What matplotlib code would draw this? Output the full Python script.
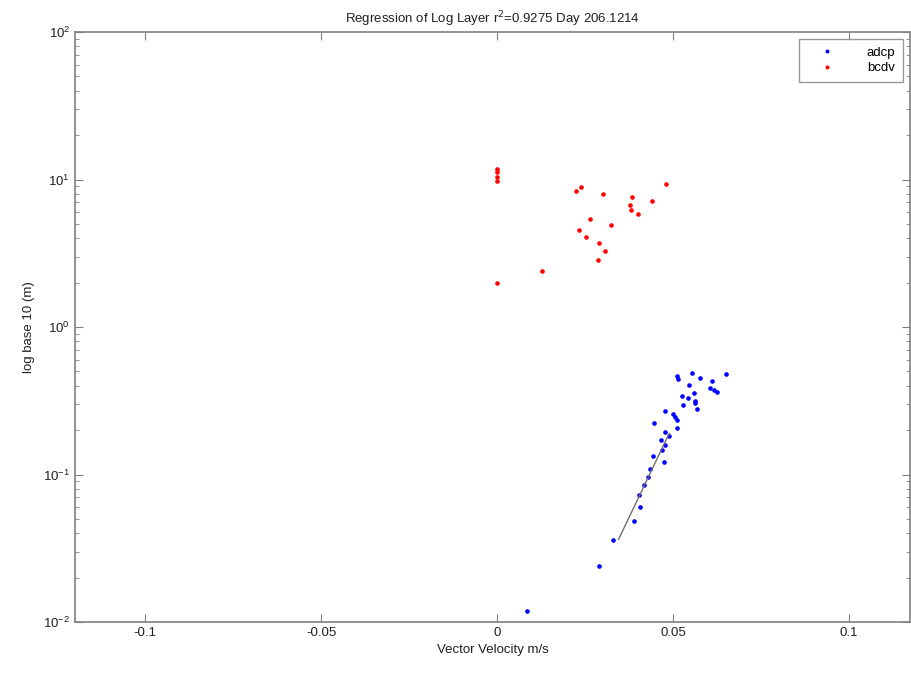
import matplotlib
matplotlib.use("Agg")
import matplotlib.pyplot as plt
from matplotlib.ticker import LogLocator, NullFormatter, FixedLocator

# bcdv (red) points
bcdv_x = [0.0, 0.0, 0.0, 0.0, 0.0, 0.0129, 0.0225, 0.0239, 0.0300, 0.0479,
          0.0383, 0.0379, 0.0381, 0.0439, 0.0399, 0.0264, 0.0323, 0.0233,
          0.0253, 0.0290, 0.0308, 0.0287]
bcdv_y = [11.8, 11.3, 10.4, 9.8, 1.98, 2.40, 8.4, 8.85, 8.0, 9.3,
          7.6, 6.7, 6.24, 7.15, 5.87, 5.42, 4.94, 4.55,
          4.10, 3.71, 3.29, 2.85]

# adcp (blue) points
adcp_x = [0.0511, 0.0515, 0.0553, 0.0577, 0.0651, 0.0610, 0.0605, 0.0615,
          0.0624, 0.0546, 0.0558, 0.0525, 0.0543, 0.0561, 0.0563, 0.0529,
          0.0567, 0.0478, 0.0501, 0.0506, 0.0512, 0.0447, 0.0511, 0.0478,
          0.0488, 0.0465, 0.0478, 0.0468, 0.0444, 0.0473, 0.0433, 0.0428,
          0.0416, 0.0403, 0.0406, 0.0388, 0.0328, 0.0290, 0.0084]
adcp_y = [0.465, 0.444, 0.490, 0.453, 0.478, 0.433, 0.388, 0.374,
          0.364, 0.402, 0.355, 0.342, 0.330, 0.317, 0.304, 0.296,
          0.279, 0.270, 0.257, 0.247, 0.234, 0.222, 0.206, 0.194,
          0.182, 0.171, 0.158, 0.147, 0.133, 0.121, 0.109, 0.0966,
          0.0849, 0.0726, 0.0605, 0.0484, 0.0361, 0.0241, 0.0119]

# regression line end points
fit_x = [0.0345, 0.0489]
fit_y = [0.0363, 0.190]

title = "Regression of Log Layer r$^2$=0.9275 Day 206.1214"
xlabel = "Vector Velocity m/s"
ylabel = "log base 10 (m)"
xticks = [-0.1, -0.05, 0, 0.05, 0.1]
xticklabels = ["-0.1", "-0.05", "0", "0.05", "0.1"]

plt.rcParams['font.family'] = ['Liberation Sans', 'DejaVu Sans']
fig = plt.figure(figsize=(9.11, 6.75), dpi=100)
ax = fig.add_axes([75/911, 53/675, 835/911, 590/675])

ax.semilogy(adcp_x, adcp_y, linestyle='none', marker='o', markersize=2.3,
            color='#0000ff', label='adcp')
ax.semilogy(bcdv_x, bcdv_y, linestyle='none', marker='o', markersize=2.3,
            color='#ff0000', label='bcdv')
ax.semilogy(fit_x, fit_y, color='#707070', linewidth=1.0)

ax.set_xlim(-0.1199, 0.1173)
ax.set_ylim(0.01, 100)
ax.xaxis.set_major_locator(FixedLocator(xticks))
ax.set_xticklabels(xticklabels)
ax.yaxis.set_major_locator(LogLocator(base=10, numticks=10))
ax.yaxis.set_minor_locator(LogLocator(base=10, subs=range(2, 10), numticks=20))
ax.yaxis.set_minor_formatter(NullFormatter())

for s in ax.spines.values():
    s.set_color('#808080')
    s.set_linewidth(1.2)
ax.tick_params(which='both', direction='in', top=True, right=True,
               colors='#808080', labelcolor='#202020', labelsize=9.5)
ax.tick_params(which='major', length=6)
ax.tick_params(which='minor', length=3)

ax.set_title(title, fontsize=9.5, color='#202020', pad=6)
ax.set_xlabel(xlabel, fontsize=9.5, color='#202020', labelpad=4)
ax.set_ylabel(ylabel, fontsize=9.5, color='#202020', labelpad=6)

leg = ax.legend(loc='upper right', fontsize=9.5, frameon=True, fancybox=False,
                borderaxespad=0.55, handlelength=3.2, handletextpad=1.4,
                markerscale=0.8, borderpad=0.55, labelspacing=0.25)
leg.get_frame().set_edgecolor('#808080')
leg.get_frame().set_linewidth(1.0)

fig.savefig("out.png", dpi=100)
